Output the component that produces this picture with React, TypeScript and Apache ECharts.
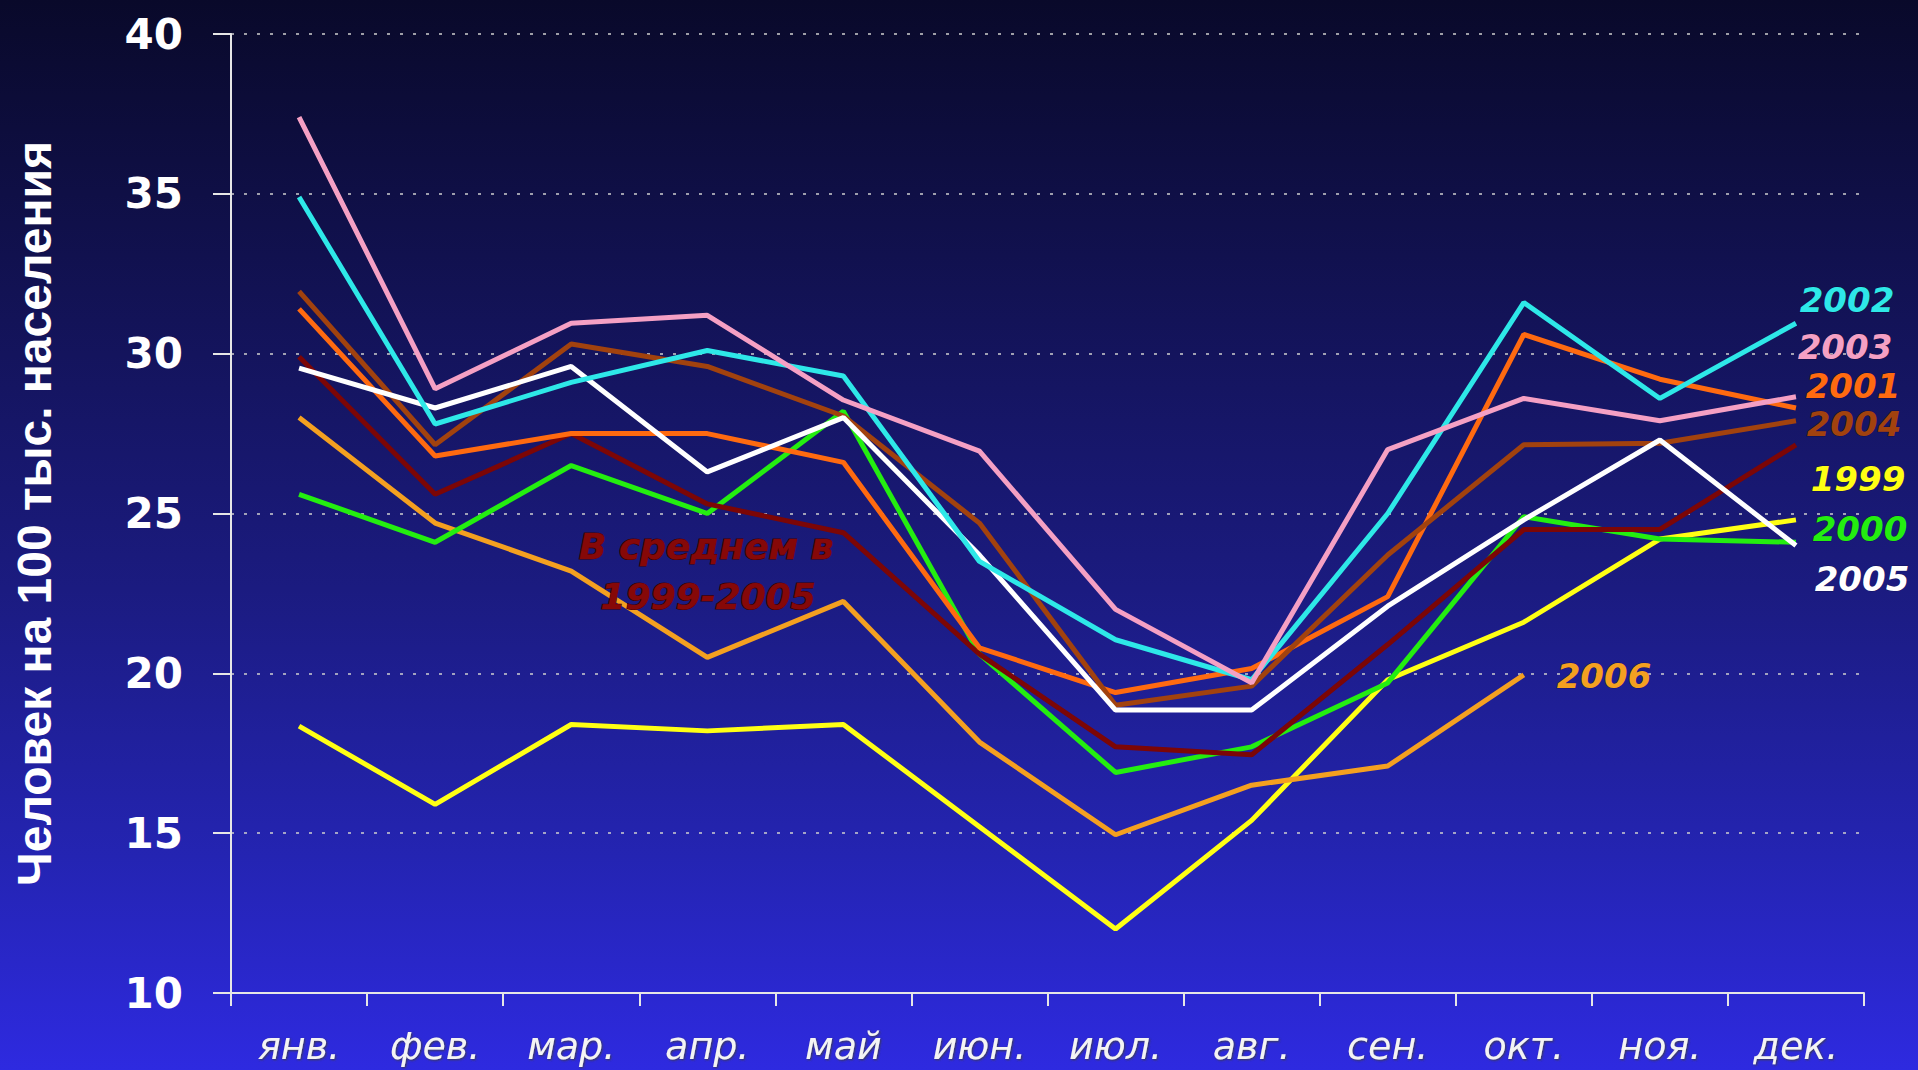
import React, { useEffect, useRef } from "react";
import * as echarts from "echarts";

// ---- data ----
const months = ["янв.", "фев.", "мар.", "апр.", "май", "июн.", "июл.", "авг.", "сен.", "окт.", "ноя.", "дек."];
const yMin = 10;
const yMax = 40;
const yStep = 5;

const y1999 = [18.35, 15.9, 18.4, 18.2, 18.4, 15.2, 12.0, 15.4, 19.8, 21.6, 24.2, 24.8];
const y2000 = [25.6, 24.1, 26.5, 25.0, 28.2, 20.6, 16.9, 17.7, 19.7, 24.9, 24.2, 24.1];
const y2001 = [31.4, 26.8, 27.5, 27.5, 26.6, 20.8, 19.4, 20.15, 22.4, 30.6, 29.2, 28.3];
const y2002 = [34.9, 27.8, 29.1, 30.1, 29.3, 23.5, 21.05, 19.8, 25.0, 31.6, 28.6, 30.95];
const y2003 = [37.4, 28.9, 30.95, 31.2, 28.55, 26.95, 22.0, 19.7, 27.0, 28.6, 27.9, 28.65];
const y2004 = [31.95, 27.15, 30.3, 29.6, 28.05, 24.7, 19.0, 19.6, 23.7, 27.15, 27.2, 27.9];
const y2005 = [29.55, 28.3, 29.6, 26.3, 28.0, 23.7, 18.85, 18.85, 22.1, 24.8, 27.3, 24.0];
const yAvg = [29.9, 25.6, 27.5, 25.3, 24.4, 20.6, 17.7, 17.45, 20.9, 24.5, 24.5, 27.15];
const y2006 = [28.0, 24.7, 23.2, 20.5, 22.25, 17.85, 14.95, 16.5, 17.1, 19.95, null, null];

const yAxisTitle = "Человек на 100 тыс. населения";
const avgLabelLines = ["В среднем в", "1999-2005"];

// ---- styles ----
const C = {
  y1999: "#ffff14",
  y2000: "#24ee10",
  y2001: "#ff6a10",
  y2002: "#2ee8e8",
  y2003: "#f5a0c4",
  y2004: "#a2420e",
  y2005: "#ffffff",
  avg: "#7c0606",
  y2006: "#f4a020",
};

const seriesDefs = [
  { name: "1999", data: y1999, color: C.y1999 },
  { name: "2006", data: y2006, color: C.y2006 },
  { name: "2000", data: y2000, color: C.y2000 },
  { name: "В среднем в 1999-2005", data: yAvg, color: C.avg },
  { name: "2001", data: y2001, color: C.y2001 },
  { name: "2004", data: y2004, color: C.y2004 },
  { name: "2005", data: y2005, color: C.y2005 },
  { name: "2002", data: y2002, color: C.y2002 },
  { name: "2003", data: y2003, color: C.y2003 },
];

const labelPlacement = [
  { text: "2002", x: 1847, y: 300, color: C.y2002 },
  { text: "2003", x: 1845, y: 347, color: C.y2003 },
  { text: "2001", x: 1853, y: 386, color: C.y2001 },
  { text: "2004", x: 1854, y: 424, color: C.y2004 },
  { text: "1999", x: 1858, y: 479, color: C.y1999 },
  { text: "2000", x: 1860, y: 529, color: C.y2000 },
  { text: "2005", x: 1862, y: 579, color: C.y2005 },
  { text: "2006", x: 1604, y: 676, color: C.y2006 },
];

export default function App() {
  const ref = useRef<HTMLDivElement>(null);

  useEffect(() => {
    if (!ref.current) return;
    const chart = echarts.init(ref.current, null, { renderer: "svg" });

    const labelFont = "'DejaVu Sans', sans-serif";

    const graphics: any[] = labelPlacement.map((l) => ({
      type: "text",
      x: l.x,
      y: l.y,
      z: 100,
      style: {
        text: l.text,
        fill: l.color,
        font: `italic bold 34px ${labelFont}`,
        textAlign: "center",
        textVerticalAlign: "middle",
        stroke: "rgba(0,0,0,0.35)",
        lineWidth: 1,
      },
    }));
    avgLabelLines.forEach((t, i) => {
      graphics.push({
        type: "text",
        x: i === 0 ? 706 : 708,
        y: i === 0 ? 546 : 596,
        z: 100,
        style: {
          text: t,
          fill: "#860808",
          font: `italic bold 36px ${labelFont}`,
          textAlign: "center",
          textVerticalAlign: "middle",
          stroke: "#420000",
          lineWidth: 1.2,
        },
      });
    });

    chart.setOption({
      animation: false,
      backgroundColor: {
        type: "linear",
        x: 0,
        y: 0,
        x2: 0,
        y2: 1,
        colorStops: [
          { offset: 0, color: "#09092a" },
          { offset: 0.3, color: "#131358" },
          { offset: 0.55, color: "#1b1b80" },
          { offset: 0.8, color: "#2424b2" },
          { offset: 1, color: "#2e2ae0" },
        ],
      },
      grid: { left: 231, right: 54, top: 34, bottom: 77, containLabel: false },
      xAxis: {
        type: "category",
        data: months,
        boundaryGap: true,
        axisLine: { show: true, lineStyle: { color: "#e6e6e6", width: 2 } },
        axisTick: { show: true, length: 13, lineStyle: { color: "#e6e6e6", width: 2 } },
        axisLabel: {
          color: "#f4f4f4",
          fontFamily: labelFont,
          fontStyle: "italic",
          fontSize: 38,
          margin: 34,
          textShadowColor: "rgba(60,60,60,0.9)",
          textShadowBlur: 2,
          textShadowOffsetX: 1,
          textShadowOffsetY: 1,
        },
        splitLine: { show: false },
      },
      yAxis: {
        type: "value",
        min: yMin,
        max: yMax,
        interval: yStep,
        name: yAxisTitle,
        nameLocation: "middle",
        nameRotate: 90,
        nameGap: 173,
        nameTextStyle: {
          color: "#ffffff",
          fontFamily: "'Liberation Sans', Arial, sans-serif",
          fontWeight: "bold",
          fontSize: 48,
        },
        axisLine: { show: true, lineStyle: { color: "#e6e6e6", width: 2 } },
        axisTick: { show: true, length: 18, lineStyle: { color: "#e6e6e6", width: 2 } },
        axisLabel: {
          color: "#ffffff",
          fontFamily: labelFont,
          fontWeight: "bold",
          fontSize: 42,
          margin: 48,
        },
        splitLine: {
          show: true,
          lineStyle: { color: "#d0d0d0", type: [3, 10], width: 1.5 },
        },
      },
      series: seriesDefs.map((s) => ({
        type: "line",
        name: s.name,
        data: s.data,
        showSymbol: false,
        symbol: "none",
        connectNulls: false,
        lineStyle: { color: s.color, width: 5 },
        itemStyle: { color: s.color },
      })),
      graphic: graphics,
    });

    return () => chart.dispose();
  }, []);

  return (
    <div
      ref={ref}
      style={{ position: "fixed", left: 0, top: 0, width: 1918, height: 1070 }}
    />
  );
}
